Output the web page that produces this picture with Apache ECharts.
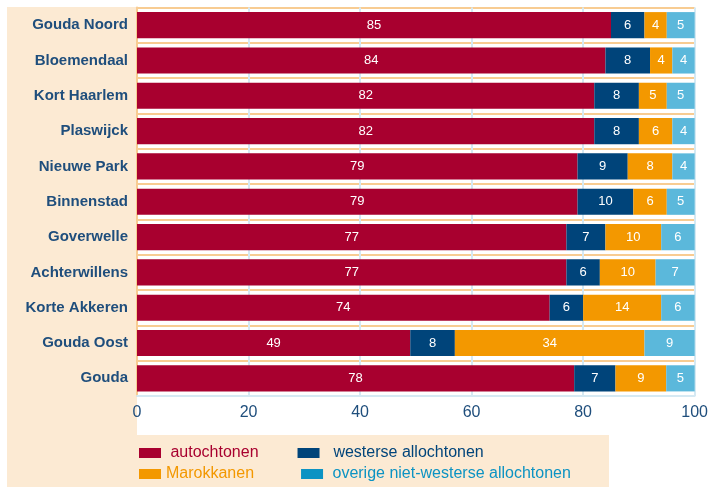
<!DOCTYPE html>
<html><head><meta charset="utf-8">
<script src="https://cdn.jsdelivr.net/npm/echarts@6/dist/echarts.min.js"></script>
<style>html,body{margin:0;padding:0;background:#fff}#c{width:711px;height:487px}</style>
</head><body><div id="c"></div>
<script>
const categories = ['Gouda Noord','Bloemendaal','Kort Haarlem','Plaswijck','Nieuwe Park','Binnenstad','Goverwelle','Achterwillens','Korte Akkeren','Gouda Oost','Gouda'];
const autochtonen = [85,84,82,82,79,79,77,77,74,49,78.4];
const westerse = [6,8,8,8,9,10,7,6,6,8,7.4];
const marokkanen = [4,4,5,6,8,6,10,10,14,34,9.1];
const overige = [5,4,5,4,4,5,6,7,6,9,5.1];
const xTicks = [0,20,40,60,80,100];
const seriesNames = ['autochtonen','westerse allochtonen','Marokkanen','overige niet-westerse allochtonen'];
const colors = ['#A8002F','#00447A','#F39800','#5BB8DB'];
const legendColors = ['#A8002F','#00447A','#F39800','#0C93C3'];

const chart = echarts.init(document.getElementById('c'), null, {renderer:'canvas'});
const cats = categories.slice().reverse();
const mk = (name, arr, i) => ({
  name, type:'bar', stack:'s', barWidth:'74%',
  data: arr.slice().reverse(),
  itemStyle:{color:colors[i]},
  label:{show:true, position:'inside', color:'#fff', fontSize:13, fontFamily:'Liberation Sans, Arial', formatter:p=>Math.round(p.value)},
  emphasis:{disabled:true}
});
const legendPad = {'autochtonen':' ', 'westerse allochtonen':'  ', 'Marokkanen':'', 'overige niet-westerse allochtonen':' '};
const legendFmt = n => legendPad[n] + n;
chart.setOption({
  animation:false,
  graphic:[
    {type:'rect', z:-10, shape:{x:7,y:7,width:130,height:480}, style:{fill:'#FCEAD3'}},
    {type:'rect', z:-10, shape:{x:7,y:435,width:602,height:52}, style:{fill:'#FCEAD3'}}
  ],
  grid:{left:137, right:16, top:7.5, bottom:91},
  xAxis:{type:'value', min:0, max:100, interval:20,
    axisLine:{show:true, lineStyle:{color:'#D5E9F3', width:2}},
    axisTick:{show:false},
    splitLine:{show:true, lineStyle:{color:'#D5E9F3', width:2}},
    axisLabel:{color:'#1F4E7C', fontSize:16, fontFamily:'Liberation Sans, Arial', margin:9, formatter:v=>xTicks.includes(v)?String(v):''}
  },
  yAxis:{type:'category', data:cats,
    axisLine:{show:true, lineStyle:{color:'#F8CC92', width:2}},
    axisTick:{show:false},
    splitLine:{show:true, lineStyle:{color:'#F8CC92', width:2}},
    axisLabel:{color:'#1F4E7C', fontSize:15, fontWeight:'bold', fontFamily:'Liberation Sans, Arial', margin:9}
  },
  legend:[
    {left:134, top:440, itemWidth:22, itemHeight:10, itemGap:39, icon:'rect', selectedMode:false,
      formatter:legendFmt,
      data:[{name:seriesNames[0], itemStyle:{color:legendColors[0]}, textStyle:{color:legendColors[0]}},
            {name:seriesNames[1], itemStyle:{color:legendColors[1]}, textStyle:{color:legendColors[1]}}],
      textStyle:{fontSize:16, fontFamily:'Liberation Sans, Arial', padding:0}},
    {left:134, top:461, itemWidth:22, itemHeight:10, itemGap:47, icon:'rect', selectedMode:false,
      formatter:legendFmt,
      data:[{name:seriesNames[2], itemStyle:{color:legendColors[2]}, textStyle:{color:legendColors[2]}},
            {name:seriesNames[3], itemStyle:{color:legendColors[3]}, textStyle:{color:legendColors[3]}}],
      textStyle:{fontSize:16, fontFamily:'Liberation Sans, Arial', padding:0}}
  ],
  series:[mk(seriesNames[0],autochtonen,0), mk(seriesNames[1],westerse,1), mk(seriesNames[2],marokkanen,2), mk(seriesNames[3],overige,3)]
});
</script></body></html>
